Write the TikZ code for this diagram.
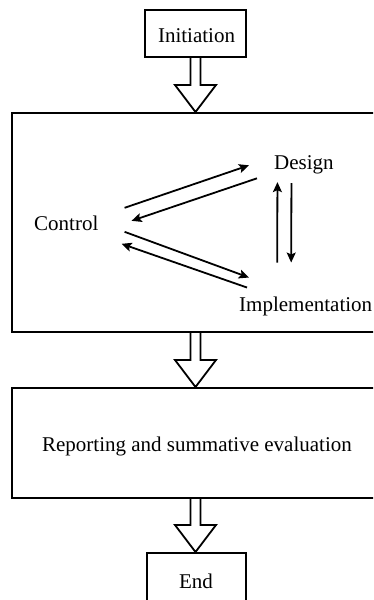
\documentclass[tikz,border=0pt]{standalone}
\usepackage{fontspec}
\setmainfont{Liberation Serif}
\usetikzlibrary{arrows.meta,calc,fit}
\tikzset{
  box/.style={draw,line width=2pt,inner sep=0pt,fill=white},
  lbl/.style={inner sep=0pt,font=\fontsize{21}{25}\selectfont},
  hollow/.style={draw,line width=1.8pt,fill=white,line join=miter},
  thin/.style={line width=1.8pt,-{Stealth[length=10pt,width=9pt,inset=2pt]}}
}
\newcommand\harrow[2]{%
  \path[hollow] let \p1=(#1), \p2=(#2) in
  (\x1-5pt,\y1) -- (\x1-5pt,\y2+27pt) -- (\x1-20.5pt,\y2+27pt) -- (\x1,\y2)
  -- (\x1+20.5pt,\y2+27pt) -- (\x1+5pt,\y2+27pt) -- (\x1+5pt,\y1);}
\begin{document}
\begin{tikzpicture}[x=1pt,y=-1pt]
\useasboundingbox (0,0) rectangle (373,600);
\clip (0,0) rectangle (373,600);
% boxes
\node[box,fit={(145,10) (246,57)}] (init) {};
\node[box,fit={(12,113) (400,332)}] (main) {};
\node[box,fit={(12,388) (400,498)}] (report) {};
\node[box,fit={(147,553) (246,620)}] (endb) {};
% texts
\node[lbl,anchor=base] (tinit) at (196.5,42.7) {Initiation};
\node[lbl,anchor=base] (treport) at (197,451) {Reporting and summative evaluation};
\node[lbl,anchor=base] (tend) at (196,588) {End};
\node[lbl,anchor=base west] (ctrl) at (34,230) {Control};
\node[lbl,anchor=base west] (des) at (274,169) {Design};
\node[lbl,anchor=base west] (impl) at (239,311) {Implementation};
% hollow arrows
\harrow{init.south}{main.north -| init}
\harrow{main.south -| init}{report.north -| init}
\harrow{report.south -| init}{endb.north}
% inner arrows
\draw[thin] ($(ctrl.east)+(26,-15)$) -- ($(des.west)+(-25,1)$);
\draw[thin] ($(des.west)+(-17,14)$) -- ($(ctrl.east)+(33,-2)$);
\draw[thin] ($(ctrl.east)+(26,9)$) -- ($(impl.north west)+(10,-18.7)$);
\draw[thin] ($(impl.north west)+(8,-8.7)$) -- ($(ctrl.east)+(23,21)$);
\draw[thin] ($(impl.north)+(-28.5,-33.7)$) -- ($(des.south)+(-26.5,8.4)$);
\draw[thin] ($(des.south)+(-12.5,9.4)$) -- ($(impl.north)+(-14.5,-33.7)$);
\end{tikzpicture}
\end{document}
